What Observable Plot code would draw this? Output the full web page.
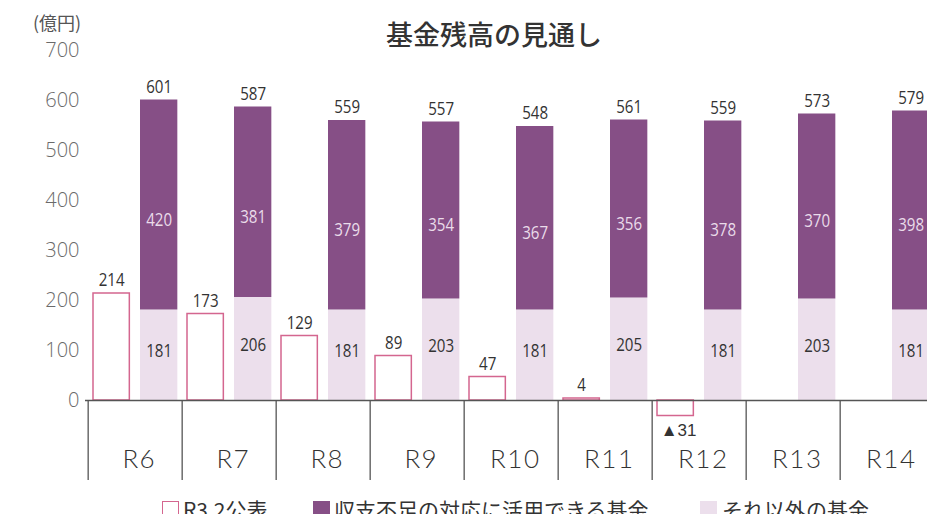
<!DOCTYPE html>
<html>
<head>
<meta charset="utf-8">
<script src="https://cdn.jsdelivr.net/npm/d3@7"></script>
<script src="https://cdn.jsdelivr.net/npm/@observablehq/plot@0.6"></script>
<style>
  html, body { margin: 0; padding: 0; background: #fff; overflow: hidden; }
  #wrap { position: relative; width: 927px; height: 514px; overflow: hidden; background: #fff; }
  #chart { position: absolute; left: 0; top: 0; }
  #title { position: absolute; left: 386px; top: 20px; font: 500 27px/1 "Noto Sans CJK JP", sans-serif; color: #333; white-space: nowrap; }
  #unit { position: absolute; left: 33px; top: 13px; font: 400 18px/1 "Noto Sans CJK JP", sans-serif; color: #555; white-space: nowrap; }
  .lg-box { position: absolute; top: 501px; width: 17px; height: 17px; box-sizing: border-box; }
  .lg-text { position: absolute; top: 499px; font: 400 21px/1 "Noto Sans CJK JP", sans-serif; color: #333; white-space: nowrap; }
</style>
</head>
<body>
<div id="wrap">
  <div id="chart"></div>
  <div id="unit">(億円)</div>
  <div id="title">基金残高の見通し</div>
  <div id="legend"></div>
</div>
<script>
// ---- data ----
const categories = ["R6", "R7", "R8", "R9", "R10", "R11", "R12", "R13", "R14"];
const published  = [214, 173, 129, 89, 47, 4, -31, null, null];          // R3.2公表
const usable     = [420, 381, 379, 354, 367, 356, 378, 370, 398];        // 収支不足の対応に活用できる基金
const other      = [181, 206, 181, 203, 181, 205, 181, 203, 181];        // それ以外の基金
const totals     = [601, 587, 559, 557, 548, 561, 559, 573, 579];
const yTicks     = [0, 100, 200, 300, 400, 500, 600, 700];
const seriesNames = ["R3.2公表", "収支不足の対応に活用できる基金", "それ以外の基金"];

// ---- styles ----
const C_OUT = "#d4668f", C_PURPLE = "#864f86", C_LIGHT = "#ecdfec", C_LINE = "#555";
const NUM_FONT = '"Open Sans", sans-serif';

const pubRows = categories.map((c, i) => ({cat: c, v: published[i]})).filter(d => d.v != null);
const stackRows = categories.flatMap((c, i) => [
  {cat: c, y1: 0, y2: other[i], s: "other", v: other[i]},
  {cat: c, y1: other[i], y2: other[i] + usable[i], s: "usable", v: usable[i]}
]);
const totalRows = categories.map((c, i) => ({cat: c, v: totals[i], top: other[i] + usable[i]}));

const W = 927, H = 514, LEFT = 85, BW = (937 - LEFT) / categories.length;
const DX_PUB = -BW / 2 + 5 + 18.5;
const DX_STACK = -BW / 2 + 52 + 19;
const NUM_SIZE = 18, CAT_SIZE = 26;
const numOpts = {fontSize: NUM_SIZE, fontFamily: NUM_FONT};

const plot = Plot.plot({
  width: W, height: H,
  marginLeft: LEFT, marginRight: 0, marginTop: 50, marginBottom: 114,
  style: {background: "transparent", overflow: "visible"},
  x: {domain: categories, range: [LEFT, 937], padding: 0, axis: null},
  y: {domain: [0, 700], axis: null},
  marks: [
    Plot.barY(pubRows, {x: "cat", y: "v", fill: "white", stroke: C_OUT, strokeWidth: 1.5,
      insetLeft: 5, insetRight: BW - 42}),
    Plot.barY(stackRows, {x: "cat", y1: "y1", y2: "y2",
      fill: d => d.s === "other" ? C_LIGHT : C_PURPLE, insetLeft: 52, insetRight: BW - 90}),
    Plot.ruleY([0], {stroke: C_LINE, strokeWidth: 1.3}),
    Plot.ruleX(categories, {x: d => d, y1: 0, y2: -160, dx: -BW / 2, stroke: C_LINE, strokeWidth: 1.3}),
    Plot.text(yTicks, {y: d => d, text: d => String(d), frameAnchor: "left", textAnchor: "end", dx: -6,
      fontSize: 20, fill: "#6a6a6a", fontFamily: '"Open Sans", sans-serif', fontWeight: 300}),
    Plot.text(categories, {x: d => d, text: d => d, frameAnchor: "bottom", dy: 67, dx: 3,
      fontSize: CAT_SIZE, fill: "#333", fontFamily: 'Lato, "Noto Sans", sans-serif', fontWeight: 300}),
    Plot.text(pubRows.filter(d => d.v >= 0), {x: "cat", y: "v", text: d => String(d.v),
      dx: DX_PUB, dy: -13, fill: "#333", ...numOpts}),
    Plot.text(pubRows.filter(d => d.v < 0), {x: "cat", y: "v", text: d => "▲" + Math.abs(d.v),
      dx: DX_PUB + 3, dy: 15, fill: "#333", fontSize: 17, fontFamily: '"Liberation Sans", sans-serif'}),
    Plot.text(totalRows, {x: "cat", y: "top", text: d => String(d.v),
      dx: DX_STACK, dy: -13, fill: "#333", ...numOpts}),
    Plot.text(stackRows.filter(d => d.s === "other"), {x: "cat", y: d => (d.y1 + d.y2) / 2, text: d => String(d.v),
      dx: DX_STACK, dy: -4, fill: "#333", ...numOpts}),
    Plot.text(stackRows.filter(d => d.s === "usable"), {x: "cat", y: d => (d.y1 + d.y2) / 2, text: d => String(d.v),
      dx: DX_STACK, dy: 15, fill: "#eadcea", ...numOpts})
  ]
});
document.getElementById("chart").appendChild(plot);

// condensed look for value labels, spaced look for category labels
plot.querySelectorAll(`g[font-size="${NUM_SIZE}"] text`).forEach(el => {
  const L = el.getComputedTextLength();
  el.setAttribute("textLength", (L * 0.84).toFixed(1));
  el.setAttribute("lengthAdjust", "spacingAndGlyphs");
});
plot.querySelectorAll(`g[font-size="${CAT_SIZE}"] text`).forEach(el => {
  const n = el.textContent.length;
  el.setAttribute("textLength", 17 * n - 2);
  el.setAttribute("lengthAdjust", "spacing");
});

// ---- legend ----
const legendItems = [
  {name: seriesNames[0], box: {left: 162, border: `1.5px solid ${C_OUT}`, background: "#fff"}, text: 183},
  {name: seriesNames[1], box: {left: 313, background: C_PURPLE}, text: 334},
  {name: seriesNames[2], box: {left: 700, background: C_LIGHT}, text: 722}
];
const lg = document.getElementById("legend");
for (const it of legendItems) {
  const b = document.createElement("div");
  b.className = "lg-box";
  b.style.left = it.box.left + "px";
  if (it.box.border) b.style.border = it.box.border;
  b.style.background = it.box.background;
  lg.appendChild(b);
  const t = document.createElement("div");
  t.className = "lg-text";
  t.style.left = it.text + "px";
  t.textContent = it.name;
  lg.appendChild(t);
}
</script>
</body>
</html>
